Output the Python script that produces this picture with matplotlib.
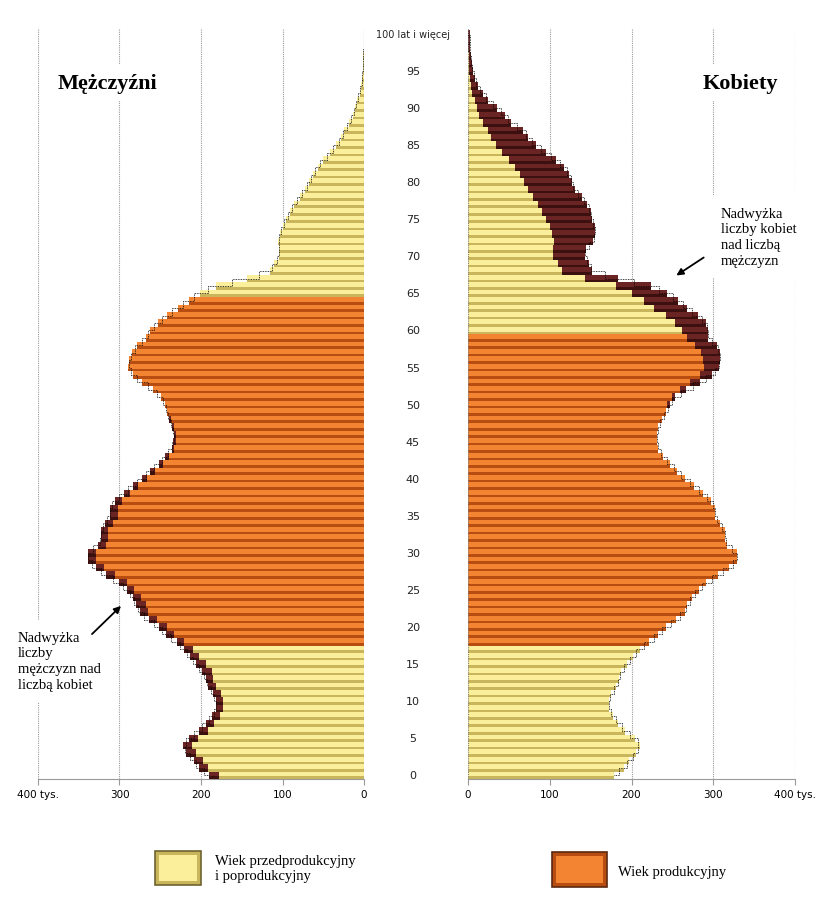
import numpy as np
import matplotlib
matplotlib.use("Agg")
import matplotlib.pyplot as plt
from matplotlib.patches import Rectangle
from matplotlib.transforms import blended_transform_factory

# population by single year of age (thousands), age 0..100+
ages = np.arange(101)
men = [190, 203, 209, 218, 222, 215, 203, 194, 187, 182,
       182, 185, 191, 194, 199, 206, 213, 221, 230, 243,
       252, 264, 275, 280, 284, 291, 301, 316, 329, 339,
       339, 326, 323, 323, 318, 312, 312, 306, 295, 284,
       273, 263, 252, 244, 236, 234, 233, 235, 239, 242,
       244, 249, 259, 272, 284, 289, 288, 285, 278, 268,
       262, 253, 242, 228, 215, 201, 181, 143, 115, 110,
       104, 104, 105, 103, 100, 96, 91, 86, 79, 73,
       68, 63, 57, 50, 42, 34, 28, 24, 18, 14,
       11, 8, 5.5, 3.5, 2.5, 1.8, 1.2, 0.8, 0.5, 0.4, 0.5]
women = [178, 191, 197, 206, 211, 204, 192, 184, 177, 173,
         173, 175, 181, 185, 187, 194, 202, 210, 221, 233,
         242, 254, 265, 268, 274, 282, 291, 306, 319, 329,
         329, 317, 314, 314, 308, 302, 302, 297, 287, 277,
         266, 256, 247, 239, 233, 231, 231, 233, 237, 242,
         247, 253, 267, 284, 298, 307, 308, 308, 304, 294,
         294, 291, 281, 268, 257, 244, 224, 183, 152, 148,
         143, 144, 153, 155, 155, 152, 150, 146, 139, 131,
         127, 124, 118, 108, 96, 83, 74, 67, 53, 45,
         35, 25, 18, 12, 8, 6, 4.5, 3.5, 2.5, 2, 2.5]
# working age: men 18-64, women 18-59
men_work = (18, 64)
women_work = (18, 59)

age_ticks = list(range(0, 100, 5)) + [100]
age_labels = [str(a) for a in range(0, 100, 5)] + ["100 lat i więcej"]

YEL = ("#fbef9c", "#c9b65c")
ORA = ("#f38532", "#b84d12")
BRN = ("#6a2424", "#3d1010")

men = np.array(men, dtype=float)
women = np.array(women, dtype=float)
base = np.minimum(men, women)

fig = plt.figure(figsize=(8.31, 9.2), dpi=100)
W, H = 831.0, 920.0


def px(x, y):
    return x / W, 1 - y / H


bot = (H - 780) / H
hgt = (780 - 29) / H
ax_l = fig.add_axes([38 / W, bot, (364 - 38) / W, hgt])
ax_r = fig.add_axes([468 / W, bot, (795 - 468) / W, hgt])


def bars(ax, left, width, colors):
    # light upper part + darker lower stripe
    for a, l, w, c in zip(ages, left, width, colors):
        if w <= 0:
            continue
        ax.barh(a + 0.18, w, left=l, height=0.64, color=c[0], linewidth=0, zorder=3)
        ax.barh(a - 0.32, w, left=l, height=0.36, color=c[1], linewidth=0, zorder=3)


def side(ax, total, work):
    cols = [ORA if work[0] <= a <= work[1] else YEL for a in ages]
    bars(ax, np.zeros(101), base, cols)
    bars(ax, base, total - base, [BRN] * 101)
    # dotted outline of bar ends
    ax.step(total, ages, where="mid", color="black", lw=0.6, ls=(0, (1, 1)), zorder=4)
    ax.set_ylim(-0.5, 100.8)
    ax.grid(axis="x", color="#9a9a9a", ls=(0, (1, 1)), lw=0.8, zorder=0)
    ax.set_axisbelow(True)
    for s in ["top", "right", "left"]:
        ax.spines[s].set_visible(False)
    ax.spines["bottom"].set_color("#9a9a9a")
    ax.spines["bottom"].set_linestyle((0, (1, 1)))
    ax.axvline(0, color="#808080", ls=(0, (1, 1)), lw=0.8, zorder=5)
    ax.set_yticks([])
    ax.tick_params(axis="x", length=4, color="#9a9a9a", labelsize=7.5, pad=3)


side(ax_l, men, men_work)
side(ax_r, women, women_work)
ax_l.set_xlim(400, 0)
ax_r.set_xlim(0, 400)
ax_l.set_xticks([400, 300, 200, 100, 0])
ax_l.set_xticklabels(["400 tys.", "300", "200", "100", "0"])
ax_r.set_xticks([0, 100, 200, 300, 400])
ax_r.set_xticklabels(["0", "100", "200", "300", "400 tys."])

# age labels in the middle
tr = blended_transform_factory(ax_l.transAxes, ax_l.transData)
xmid = (413 - 38) / (364 - 38)
for a, lab in zip(age_ticks, age_labels):
    ax_l.text(xmid, a, lab, transform=tr, ha="center", va="center",
              fontsize=8 if a < 100 else 7, color="#222222", clip_on=False)

serif = "Liberation Serif"
white = dict(facecolor="white", edgecolor="none", pad=6)
fig.text(*px(107, 84), "Mężczyźni", family=serif, fontsize=16, fontweight="bold",
         ha="center", va="center", bbox=white, zorder=10)
fig.text(*px(740, 84), "Kobiety", family=serif, fontsize=16, fontweight="bold",
         ha="center", va="center", bbox=white, zorder=10)

fig.text(*px(18, 632), "Nadwyżka\nliczby\nmężczyzn nad\nliczbą kobiet", family=serif,
         fontsize=10.5, ha="left", va="top", linespacing=1.25,
         bbox=dict(facecolor="white", edgecolor="none", pad=8), zorder=10)
fig.text(*px(721, 208), "Nadwyżka\nliczby kobiet\nnad liczbą\nmężczyzn", family=serif,
         fontsize=10.5, ha="left", va="top", linespacing=1.25,
         bbox=dict(facecolor="white", edgecolor="none", pad=8), zorder=10)

fig.patches.append(matplotlib.patches.FancyArrowPatch(
    px(90, 637), px(123, 605), transform=fig.transFigure, arrowstyle="-|>",
    mutation_scale=10, color="black", lw=1.3, zorder=11))
fig.patches.append(matplotlib.patches.FancyArrowPatch(
    px(706, 257), px(674, 278), transform=fig.transFigure, arrowstyle="-|>",
    mutation_scale=10, color="black", lw=1.3, zorder=11))

# legend
for (x0, y0, w, h), c, edge in [((155, 852, 46, 34), YEL, "#6e6330"),
                                ((552, 853, 55, 35), ORA, "#5a2a10")]:
    fx, fy = px(x0, y0 + h)
    fig.patches.append(Rectangle((fx, fy), w / W, h / H, transform=fig.transFigure,
                                 facecolor=c[1], edgecolor=edge, lw=1.2))
    fx2, fy2 = px(x0 + 4, y0 + h - 4)
    fig.patches.append(Rectangle((fx2, fy2), (w - 8) / W, (h - 8) / H,
                                 transform=fig.transFigure, facecolor=c[0], lw=0))
fig.text(*px(215, 869), "Wiek przedprodukcyjny\ni poprodukcyjny", family=serif,
         fontsize=10.5, ha="left", va="center", linespacing=1.2)
fig.text(*px(618, 873), "Wiek produkcyjny", family=serif, fontsize=10.5,
         ha="left", va="center")

fig.savefig("out.png", dpi=100, facecolor="white")
